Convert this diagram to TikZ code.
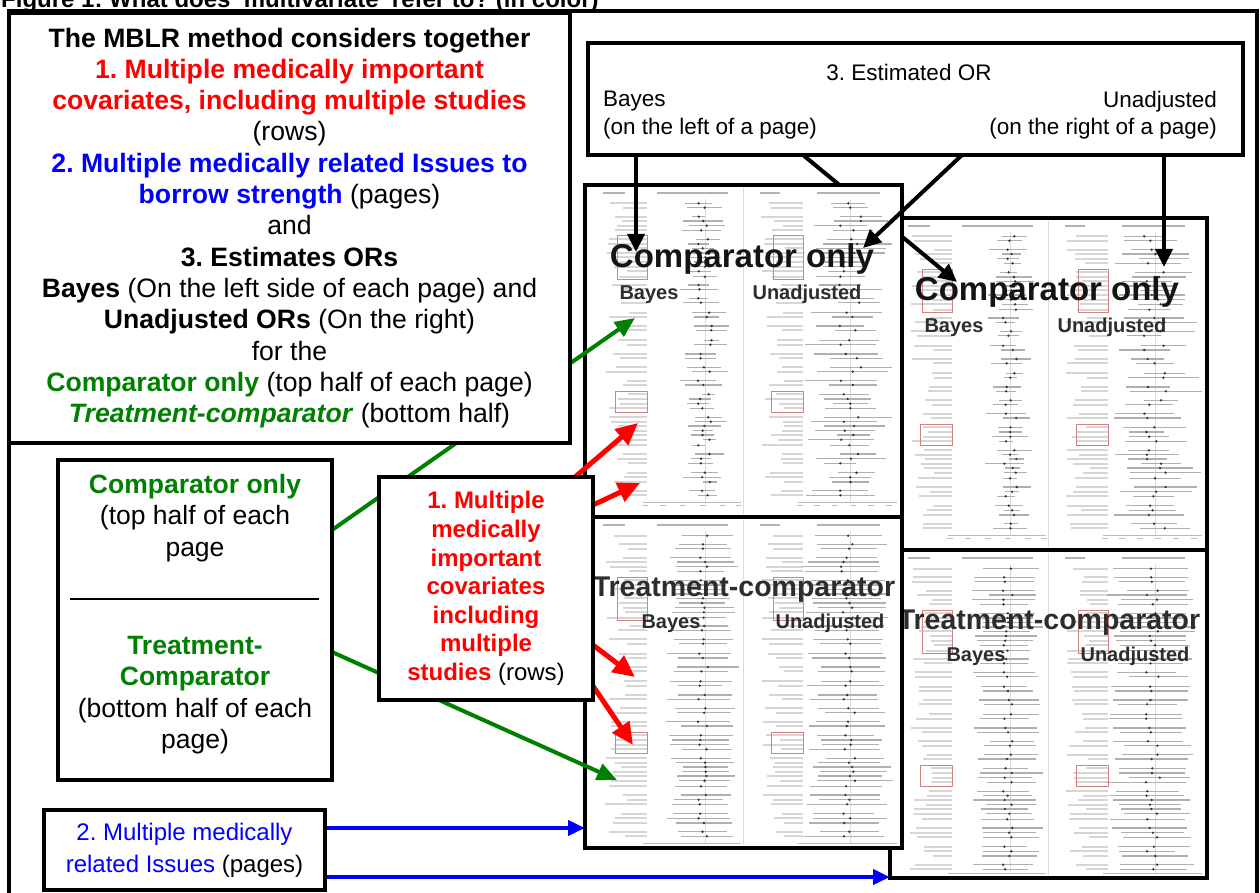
\documentclass[tikz,border=0pt]{standalone}
\usepackage{fontspec}
\setmainfont{Liberation Sans}
\usetikzlibrary{arrows.meta,calc}
\frenchspacing

\pgfdeclarelayer{rpages}
\pgfdeclarelayer{mid}
\pgfdeclarelayer{lpages}
\pgfdeclarelayer{arrows}
\pgfsetlayers{rpages,mid,lpages,arrows,main}

\definecolor{cred}{RGB}{255,0,0}
\definecolor{cblue}{RGB}{0,0,255}
\definecolor{cgreen}{RGB}{0,128,0}
\definecolor{hilite}{RGB}{210,130,130}
\definecolor{inkgray}{RGB}{45,45,45}

\tikzset{
  box/.style={draw=black, line width=4pt, fill=white, inner sep=0pt, outer sep=0pt},
  pageframe/.style={draw=black, line width=4pt, inner sep=0pt, outer sep=0pt},
  lbl/.style={draw=gray!32, line width=1.9pt},
  hdr/.style={draw=gray!60, line width=2.6pt},
  ci/.style={draw=gray!62, line width=1.3pt},
  est/.style={fill=black!80},
  refl/.style={draw=gray!28, line width=0.6pt},
  axisl/.style={draw=gray!55, line width=0.7pt},
  hibox/.style={draw=hilite, line width=1pt},
  blk/.style={draw=black, line width=4pt, -{Triangle[length=18pt,width=17pt]}},
  redarr/.style={draw=cred, line width=5pt, -{Triangle[length=22pt,width=20pt]}},
  grn/.style={draw=cgreen, line width=4pt, -{Triangle[length=20pt,width=17pt]}},
  blu/.style={draw=cblue, line width=4.5pt, -{Triangle[length=17pt,width=15pt]}},
  big/.style={anchor=base, inner sep=0pt, font=\bfseries\fontsize{#1}{#1}\selectfont},
  plain/.style={inner sep=0pt, outer sep=0pt},
}

% vertical positions of the rows of a forest plot page
\newcommand\rowys{18.3,22.7,31.7,36,40.7,45.3,54.3,59,63.3,68,72.3,77,81.7,86.3,91.7,100,104.3,113.3,117.7,127.7,132,141,145.3,155.3,159.7,169,173.3,182.3,186.7,195.7,200,209.3,214,218.7,223.3,232.3,236.7,241,245.7,250,254.7,260.3,269,273.7,278.3,287.7,292.3,297,305.7,310.3}

% one row: #1 y, #2 index, #3 kind (0 comparator only, 1 treatment-comparator), #4 seed
\newcommand\plotrow[4]{%
  \pgfmathsetmacro\qa{abs(frac(sin(#2*91.7+#4*13.1)*1437.53))}%
  \pgfmathsetmacro\qb{abs(frac(sin(#2*47.3+#4*29.7)*2711.17))}%
  \pgfmathsetmacro\qc{abs(frac(sin(#2*63.9+#4*7.3)*1913.71))}%
  \pgfmathsetmacro\qd{abs(frac(sin(#2*23.1+#4*41.9)*3119.29))}%
  \pgfmathsetmacro\qe{abs(frac(sin(#2*71.3+#4*17.7)*2293.41))}%
  \pgfmathsetmacro\qf{abs(frac(sin(#2*37.9+#4*53.3)*1733.87))}%
  \draw[lbl] (44-24*\qa,#1) -- (62,#1) (200-24*\qb,#1) -- (218,#1);
  \ifnum#3=0
    \pgfmathsetmacro\hb{6+14*\qc}\pgfmathsetmacro\cb{120+14*(\qd-0.5)}%
    \pgfmathsetmacro\hu{16+20*\qe}\pgfmathsetmacro\cu{265+22*(\qf-0.5)}%
  \else
    \pgfmathsetmacro\hb{22+10*\qc}\pgfmathsetmacro\cb{118+10*(\qd-0.5)}%
    \pgfmathsetmacro\hu{28+12*\qe}\pgfmathsetmacro\cu{263+14*(\qf-0.5)}%
  \fi
  \draw[ci] (\cb-\hb,#1) -- (\cb+\hb,#1) (\cu-\hu,#1) -- (\cu+\hu,#1);
  \fill[est] (\cb,#1) circle (1.3) (\cu,#1) circle (1.3);
}

% a forest plot page: #1,#2 top-left, #3 height, #4 kind, #5 seed, #6 name
\newcommand\plotpage[6]{%
  \begin{scope}[shift={(#1,#2)}]
    \fill[white] (0,0) rectangle (317,#3);
    \pgfmathsetmacro\pgsh{9*#4}
    \pgfmathsetmacro\axy{#3-15+10*#4}
    \draw[refl] (158,3) -- (158,#3-3);
    \draw[refl] (120,14) -- (120,\axy);
    \draw[refl] (265,14) -- (265,\axy);
    \draw[hdr] (18,8) -- (40,8) (72,8) -- (143,8) (175,8) -- (195,8) (232,8) -- (295,8);
    \ifnum#4=1 \plotrow{18.7}{0}{1}{#5}\fi
    \foreach \y [count=\i] in \rowys {%
      \pgfmathsetmacro\yy{\y+\pgsh}%
      \plotrow{\yy}{\i}{#4}{#5}%
    }
    \draw[hibox] (32,51+\pgsh) rectangle (62,94+\pgsh) (188,51+\pgsh) rectangle (218,94+\pgsh);
    \draw[hibox] (30,206+\pgsh) rectangle (62,227+\pgsh) (186,206+\pgsh) rectangle (218,227+\pgsh);
    \draw[axisl] (58,\axy) -- (156,\axy) (213,\axy) -- (312,\axy);
    \foreach \tx in {60,78,98,118,138,154,215,232,250,268,286,304}
      \draw[draw=gray!50, line width=1.6pt] (\tx-3,\axy+3.5) -- (\tx+3,\axy+3.5);
    \ifnum#4=0
      \node[big=33, text=black!92] (#6-title) at (157,82) {Comparator only};
      \node[big=20, text=inkgray] (#6-left) at (64,114) {Bayes};
      \node[big=20, text=inkgray] (#6-right) at (222,114) {Unadjusted};
    \else
      \node[big=28.5, text=inkgray] (#6-title) at (159,79) {Treatment-comparator};
      \node[big=20, text=inkgray] (#6-left) at (86,111) {Bayes};
      \node[big=20, text=inkgray] (#6-right) at (245,111) {Unadjusted};
    \fi
    \node[pageframe, minimum width=317pt, minimum height=#3pt, anchor=north west] (#6) at (0,0) {};
  \end{scope}}

\begin{document}
\begin{tikzpicture}[x=1pt,y=-1pt]
\useasboundingbox (0,0) rectangle (1260,893);

% forest plot pages
\begin{pgfonlayer}{rpages}
  \plotpage{890}{218}{332}{0}{3}{RT}
  \plotpage{890}{550}{328}{1}{4}{RB}
\end{pgfonlayer}
\begin{pgfonlayer}{lpages}
  \plotpage{585}{185}{332}{0}{1}{LT}
  \plotpage{585}{517}{331}{1}{2}{LB}
\end{pgfonlayer}

% outer frame and heading
\draw[line width=4pt] (9,905) -- (9,11) -- (1257,11) -- (1257,905);
\node[anchor=base west, inner sep=0pt, font=\bfseries\fontsize{24}{28}\selectfont] (title) at (1,8)
  {Figure 1: What does `multivariate' refer to? (in color)};

% summary box
\node[box, minimum width=561pt, minimum height=430pt, align=center,
      font=\fontsize{26.6}{31.3}\selectfont] (mblr) at (289.5,228) {%
  \textbf{The MBLR method considers together}\\
  \textcolor{cred}{\textbf{1. Multiple medically important}}\\
  \textcolor{cred}{\textbf{covariates, including multiple studies}}\\
  (rows)\\
  \textcolor{cblue}{\textbf{2. Multiple medically related Issues to}}\\
  \textcolor{cblue}{\textbf{borrow strength}} (pages)\\
  and\\
  \textbf{3. Estimates ORs}\\
  \textbf{Bayes} (On the left side of each page) and\\
  \textbf{Unadjusted ORs} (On the right)\\
  for the\\
  \textcolor{cgreen}{\textbf{Comparator only}} (top half of each page)\\
  \textcolor{cgreen}{\textbf{\itshape Treatment-comparator}} (bottom half)};

% estimated OR box
\node[box, minimum width=655pt, minimum height=112pt] (estor) at (915.5,99) {};
\node[plain, font=\fontsize{22.5}{27.5}\selectfont] (esttop) at (909,72) {3. Estimated OR};
\node[plain, anchor=west, align=left, font=\fontsize{22.5}{27.5}\selectfont] (estleft) at (603,115)
  {Bayes\\(on the left of a page)};
\node[plain, anchor=east, align=right, font=\fontsize{22.5}{27.5}\selectfont] (estright) at (1217,115)
  {Unadjusted\\(on the right of a page)};

% comparator / treatment-comparator box
\node[box, minimum width=274pt, minimum height=320pt] (cmp) at (195,620) {};
\node[plain, align=center, font=\fontsize{26.5}{31.3}\selectfont] (cmptop) at (195,518)
  {\textcolor{cgreen}{\textbf{Comparator only}}\\(top half of each\\page};
\draw[line width=2pt] ($(cmp.west)+(12,-21)$) -- ($(cmp.east)+(-13,-21)$);
\node[plain, align=center, font=\fontsize{26.5}{31.3}\selectfont] (cmpbot) at (195,695)
  {\textcolor{cgreen}{\textbf{Treatment-}}\\\textcolor{cgreen}{\textbf{Comparator}}\\(bottom half of each\\page)};

% covariates box
\node[box, minimum width=214pt, minimum height=223pt, align=center, text=cred,
      font=\bfseries\fontsize{24}{28.6}\selectfont] (redb) at (486,588.5)
  {1. Multiple\\medically\\important\\covariates\\including\\multiple\\studies \textcolor{black}{\mdseries(rows)}};

% issues box
\node[box, minimum width=281pt, minimum height=80pt, align=center,
      font=\fontsize{24}{32}\selectfont] (blueb) at (184.5,850)
  {\textcolor{cblue}{2. Multiple medically}\\\textcolor{cblue}{related Issues} (pages)};

% connector end points
\coordinate (a1s) at ($(estor.south west)+(48,0)$);
\coordinate (a2s) at ($(estor.south west)+(215,0)$);
\coordinate (a3s) at ($(estor.south west)+(374,0)$);
\coordinate (a4s) at ($(estor.south west)+(576,0)$);
\coordinate (a1) at (636,252);
\coordinate (a2) at (957,282);
\coordinate (a3) at (863,248);
\coordinate (a4) at (1164,267);
\coordinate (g1s) at ($(cmp.north east)+(0,70)$);
\coordinate (g2s) at ($(cmp.north east)+(0,192)$);
\coordinate (g1) at (635,318);
\coordinate (g2) at (617,780);
\coordinate (r1s) at ($(redb.north east)+(-18,0)$);
\coordinate (r2s) at ($(redb.north east)+(0,28)$);
\coordinate (r3s) at ($(redb.north east)+(0,168)$);
\coordinate (r4s) at ($(redb.north east)+(0,209)$);
\coordinate (r1) at (638,423);
\coordinate (r2) at (640,483);
\coordinate (r3) at (635,677);
\coordinate (r4) at (633,745);
\coordinate (b1s) at ($(blueb.east)+(0,-22)$);
\coordinate (b2s) at ($(blueb.east)+(0,27)$);

\begin{pgfonlayer}{mid}
  \draw[blk] (a2s) -- (a2);
\end{pgfonlayer}
\begin{pgfonlayer}{arrows}
  \draw[blk] (a1s) -- (a1);
  \draw[blk] (a3s) -- (a3);
  \draw[blk] (a4s) -- (a4);
  \draw[grn] (g1s) -- (g1);
  \draw[grn] (g2s) -- (g2);
  \draw[redarr] (r1s) -- (r1);
  \draw[redarr] (r2s) -- (r2);
  \draw[redarr] (r3s) -- (r3);
  \draw[redarr] (r4s) -- (r4);
  \draw[blu] (b1s) -- (b1s -| LB.west);
  \draw[blu] (b2s) -- (b2s -| RB.west);
\end{pgfonlayer}
\end{tikzpicture}
\end{document}
